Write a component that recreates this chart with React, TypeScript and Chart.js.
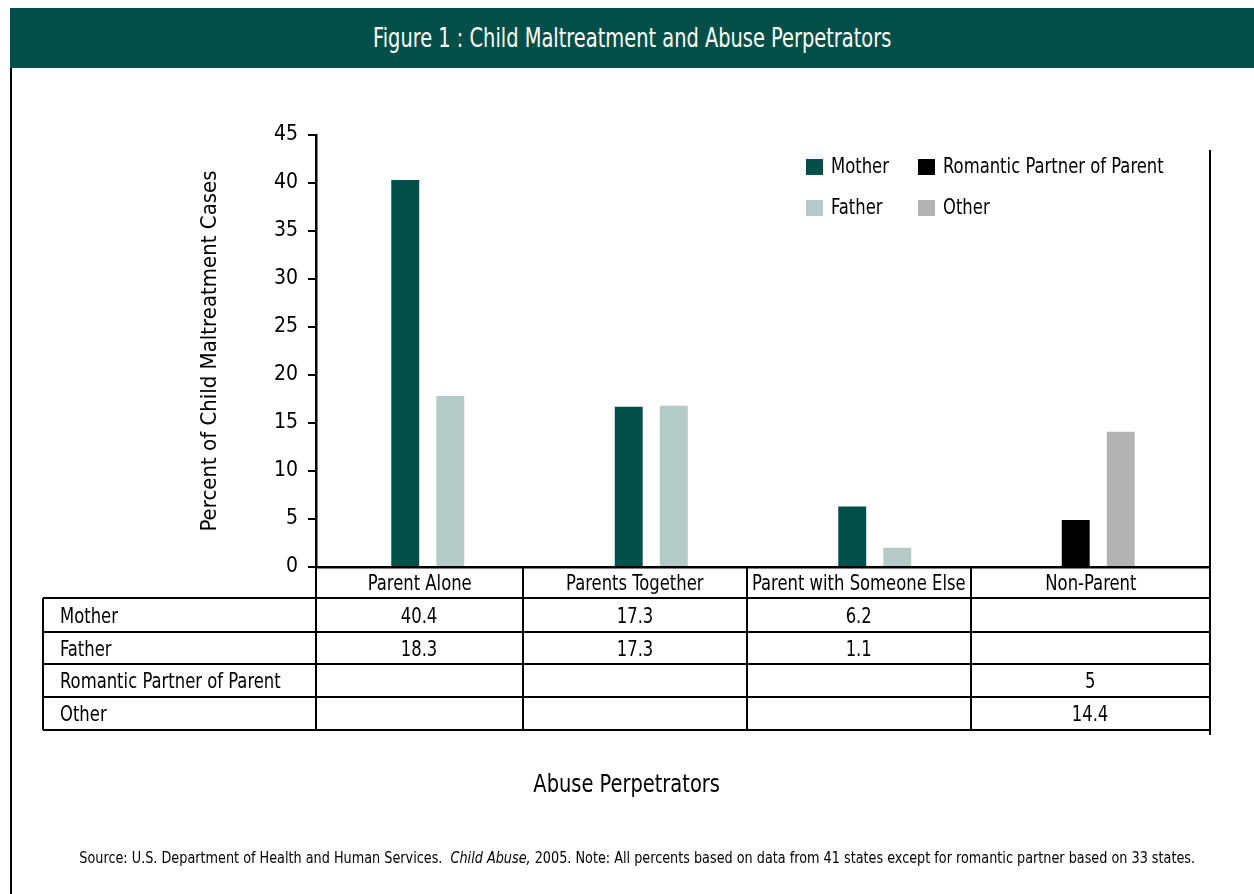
import React, { useEffect, useRef } from 'react';
import { Chart, registerables } from 'chart.js';

Chart.register(...registerables);

// ---------- data ----------
const categories = ['Parent Alone', 'Parents Together', 'Parent with Someone Else', 'Non-Parent'];
const seriesNames = ['Mother', 'Father', 'Romantic Partner of Parent', 'Other'];
const motherBars = [40.3, 16.7, 6.3, null];
const fatherBars = [17.8, 16.8, 2.0, null];
const partnerBars = [null, null, null, 4.9];
const otherBars = [null, null, null, 14.1];
const motherTable = ['40.4', '17.3', '6.2', ''];
const fatherTable = ['18.3', '17.3', '1.1', ''];
const partnerTable = ['', '', '', '5'];
const otherTable = ['', '', '', '14.4'];
const yMin = 0;
const yMax = 45;
const yStep = 5;

const titleText = 'Figure 1 : Child Maltreatment and Abuse Perpetrators';
const yTitle = 'Percent of Child Maltreatment Cases';
const xTitle = 'Abuse Perpetrators';

// ---------- style ----------
const FONT = "'Liberation Sans Narrow', 'Arial Narrow', 'DejaVu Sans Condensed', sans-serif";
const TEAL = '#024f49';
const colors = ['#024f49', '#b5cbc8', '#000000', '#b3b3b3'];
const SQUEEZE = 0.83;

const tableCols = [43, 316, 523, 747, 971, 1210];
const tableRows = [567, 598, 632, 664, 697, 730];

const legendPlugin = {
  id: 'cornerLegend',
  afterDraw(chart: any) {
    const { ctx, chartArea } = chart;
    const colX = [chartArea.right - 404, chartArea.right - 292];
    const rowY = [chartArea.top + 32, chartArea.top + 73];
    const place = [[0, 0], [0, 1], [1, 0], [1, 1]];
    chart.data.datasets.forEach((ds: any, i: number) => {
      const [c, r] = place[i];
      const x = colX[c];
      const y = rowY[r];
      ctx.save();
      ctx.fillStyle = ds.backgroundColor;
      ctx.fillRect(x, y - 8, 17, 16);
      ctx.fillStyle = '#000';
      ctx.font = `22px ${FONT}`;
      ctx.textBaseline = 'middle';
      ctx.textAlign = 'left';
      ctx.translate(x + 25, y);
      ctx.scale(SQUEEZE, 1);
      ctx.fillText(ds.label, 0, 0);
      ctx.restore();
    });
  },
};

const Line = ({ x1, y1, x2, y2, w = 2.5 }: any) => {
  const horiz = y1 === y2;
  return (
    <div
      style={{
        position: 'absolute',
        left: horiz ? x1 : x1 - w / 2,
        top: horiz ? y1 - w / 2 : y1,
        width: horiz ? x2 - x1 : w,
        height: horiz ? w : y2 - y1,
        background: '#000',
      }}
    />
  );
};

const Sq = ({ children, s = SQUEEZE, origin = 'center' }: any) => (
  <span style={{ display: 'inline-block', whiteSpace: 'nowrap', transform: `scaleX(${s})`, transformOrigin: origin }}>
    {children}
  </span>
);

export default function App() {
  const canvasRef = useRef<HTMLCanvasElement | null>(null);

  useEffect(() => {
    document.body.style.margin = '0';
    const canvas = canvasRef.current;
    if (!canvas) return;
    const YW = 130;
    const chart = new Chart(canvas, {
      type: 'bar',
      data: {
        labels: categories,
        datasets: [motherBars, fatherBars, partnerBars, otherBars].map((d, i) => ({
          label: seriesNames[i],
          data: d as any,
          backgroundColor: colors[i],
          borderWidth: 0,
          skipNull: true,
          categoryPercentage: 0.403,
          barPercentage: 0.62,
        })),
      },
      options: {
        animation: false,
        responsive: false,
        layout: { padding: { left: 316 - YW, top: 135, right: 44, bottom: 894 - 567 } },
        plugins: { legend: { display: false }, tooltip: { enabled: false }, title: { display: false } },
        scales: {
          x: {
            type: 'category',
            offset: true,
            ticks: { display: false },
            grid: { display: false },
            border: { display: true, color: '#000', width: 2.5 },
            afterFit: (s: any) => { s.height = 0; },
          },
          y: {
            min: yMin,
            max: yMax,
            ticks: {
              stepSize: yStep,
              color: '#000',
              padding: 10,
              font: { family: FONT, size: 21 },
            },
            grid: { drawOnChartArea: false, drawTicks: true, tickLength: 8, color: '#000', lineWidth: 2 },
            border: { display: true, color: '#000', width: 2.5 },
            title: {
              display: true,
              text: yTitle,
              color: '#000',
              font: { family: FONT, size: 22 },
              padding: { top: 11, bottom: 0 },
            },
            afterFit: (s: any) => { s.width = YW; },
          },
        },
      },
      plugins: [legendPlugin],
    } as any);
    return () => chart.destroy();
  }, []);

  const rowsData = [motherTable, fatherTable, partnerTable, otherTable];
  const cellFont: React.CSSProperties = { fontFamily: FONT, fontSize: 22, color: '#000' };

  return (
    <div style={{ position: 'relative', width: 1254, height: 894, background: '#fff', overflow: 'hidden' }}>
      <canvas ref={canvasRef} width={1254} height={894} style={{ position: 'absolute', left: 0, top: 0, width: 1254, height: 894 }} />
      {/* header band */}
      <div
        style={{
          position: 'absolute', left: 10, top: 8, width: 1244, height: 60, background: TEAL,
          color: '#fff', fontFamily: FONT, fontSize: 26, display: 'flex', alignItems: 'center', justifyContent: 'center',
        }}
      >
        <Sq>{titleText}</Sq>
      </div>
      {/* page border left */}
      <Line x1={11} y1={68} x2={11} y2={894} w={2} />
      {/* right border of chart */}
      <Line x1={1210} y1={150} x2={1210} y2={735} w={2.5} />
      {/* table lines */}
      {tableRows.slice(1).map((y, i) => (
        <Line key={'h' + i} x1={tableCols[0]} y1={y} x2={tableCols[5]} y2={y} />
      ))}
      <Line x1={tableCols[0]} y1={tableRows[1]} x2={tableCols[0]} y2={tableRows[5]} />
      {tableCols.slice(1, 5).map((x, i) => (
        <Line key={'v' + i} x1={x} y1={tableRows[0]} x2={x} y2={tableRows[5]} />
      ))}
      {/* header row labels */}
      {categories.map((c, i) => (
        <div
          key={'c' + i}
          style={{
            position: 'absolute', left: tableCols[i + 1], top: tableRows[0], width: tableCols[i + 2] - tableCols[i + 1],
            height: tableRows[1] - tableRows[0], display: 'flex', alignItems: 'center', justifyContent: 'center', ...cellFont,
          }}
        >
          <Sq>{c}</Sq>
        </div>
      ))}
      {/* data rows */}
      {rowsData.map((row, r) => (
        <React.Fragment key={'r' + r}>
          <div
            style={{
              position: 'absolute', left: tableCols[0] + 17, top: tableRows[r + 1], height: tableRows[r + 2] - tableRows[r + 1],
              display: 'flex', alignItems: 'center', ...cellFont,
            }}
          >
            <Sq origin="left center">{seriesNames[r]}</Sq>
          </div>
          {row.map((v, i) => (
            <div
              key={'v' + i}
              style={{
                position: 'absolute', left: tableCols[i + 1], top: tableRows[r + 1], width: tableCols[i + 2] - tableCols[i + 1],
                height: tableRows[r + 2] - tableRows[r + 1], display: 'flex', alignItems: 'center', justifyContent: 'center', ...cellFont,
              }}
            >
              <Sq>{v}</Sq>
            </div>
          ))}
        </React.Fragment>
      ))}
      {/* x title */}
      <div style={{ position: 'absolute', left: 0, width: 1254, top: 770, textAlign: 'center', fontFamily: FONT, fontSize: 24, color: '#000' }}>
        <Sq s={0.9}>{xTitle}</Sq>
      </div>
      {/* source */}
      <div style={{ position: 'absolute', left: 10, width: 1254, top: 849, textAlign: 'center', fontFamily: FONT, fontSize: 15, color: '#000', whiteSpace: 'nowrap' }}>
        <Sq s={0.95}>
          Source: U.S. Department of Health and Human Services.&nbsp; <i>Child Abuse,</i> 2005. Note: All percents based on data from 41 states except for romantic partner based on 33 states.
        </Sq>
      </div>
    </div>
  );
}
